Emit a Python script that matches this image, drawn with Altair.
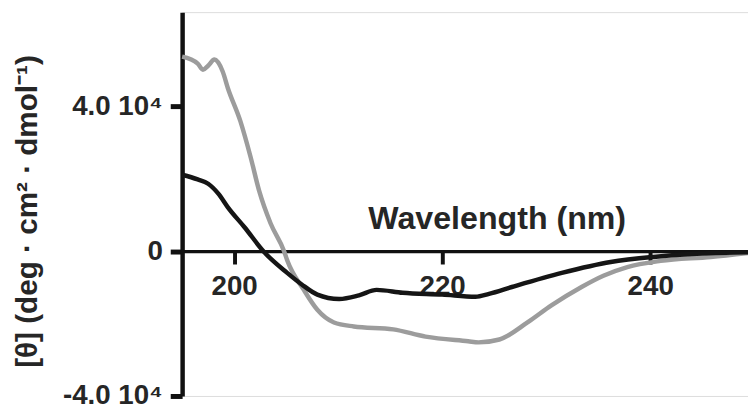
import altair as alt
import pandas as pd

# Gray curve (wavelength nm, ellipticity)
gray_wl = [195.0, 196.5, 197.0, 197.5, 198.1, 198.9, 199.4, 200.6, 201.6, 202.4, 203.5, 204.8,
           205.1, 206.7, 208.0, 209.6, 211.5, 215.3, 218.4, 222.5, 223.5, 225.5, 228.2, 230.5,
           233.4, 235.5, 237.8, 241.0, 245.8, 249.4]
gray_val = [53700, 51800, 50100, 51200, 52900, 49600, 45000, 35900, 25800, 16700, 7700, 0,
            -2500, -10700, -16200, -19700, -20800, -21600, -23600, -24900, -25200, -24400, -19700, -15000,
            -9900, -6800, -4400, -2700, -1600, -500]

# Black curve
black_wl = [195.0, 196.5, 197.5, 198.5, 199.4, 201.0, 202.9, 205.1, 206.5, 208.0, 210.1, 212.0,
            213.7, 216.2, 220.0, 223.2, 224.5, 226.7, 231.5, 236.2, 240.3, 244.0, 249.4]
black_val = [21100, 19800, 18600, 15800, 12100, 6600, -300, -6000, -9200, -12000, -13200, -12200,
             -10700, -11500, -12000, -12600, -11800, -9900, -6000, -3000, -1600, -800, -300]

x_ticks = [200, 220, 240]
y_ticks = [-40000, 0, 40000]
y_tick_labels = ["-4.0 10\u2074", "0", "4.0 10\u2074"]

x_domain = [195, 249.4]
y_domain = [-40000, 66000]

df = pd.concat([
    pd.DataFrame({"wl": gray_wl, "val": gray_val, "series": "gray", "order": range(len(gray_wl))}),
    pd.DataFrame({"wl": black_wl, "val": black_val, "series": "black", "order": range(len(black_wl))}),
])

W, H = 572, 388
zero_offset = -H * (0 - y_domain[0]) / (y_domain[1] - y_domain[0])

label_expr = " : ".join(
    f"datum.value == {v} ? '{t}'" for v, t in zip(y_ticks, y_tick_labels)
) + " : ''"

font = "Liberation Sans"
txt = "#262626"

x_enc = alt.X("wl:Q", scale=alt.Scale(domain=x_domain, nice=False, zero=False),
              axis=alt.Axis(values=x_ticks, title="Wavelength (nm)", orient="bottom",
                            offset=zero_offset, domainWidth=3.5, domainColor="#111",
                            tickWidth=4, tickSize=13, tickColor="#111", grid=False,
                            labelFont=font, labelFontSize=28, labelFontWeight="bold",
                            labelColor=txt, labelPadding=9,
                            titleFont=font, titleFontSize=32.5, titleFontWeight="bold",
                            titleColor=txt, titleX=318, titleY=-23,
                            titleBaseline="alphabetic", titleAnchor=None))
y_enc = alt.Y("val:Q", scale=alt.Scale(domain=y_domain, nice=False, zero=False),
              axis=alt.Axis(values=y_ticks, labelExpr=label_expr,
                            title="[\u03b8] (deg \u00b7 cm\u00b2 \u00b7 dmol\u207b\u00b9)",
                            domainWidth=4.5, domainColor="#111", tickWidth=5, tickSize=12,
                            tickColor="#111", grid=False,
                            labelFont=font, labelFontSize=28, labelFontWeight="bold",
                            labelColor=txt, labelPadding=8,
                            titleFont=font, titleFontSize=30, titleFontWeight="bold",
                            titleColor=txt, titleAngle=270, titleX=-156, titleY=201,
                            titleAlign="center", titleBaseline="middle"))

chart = alt.Chart(df).mark_line(strokeWidth=4.5, clip=False, interpolate="monotone").encode(
    x=x_enc,
    y=y_enc,
    detail="series:N",
    order="order:Q",
    color=alt.Color("series:N", scale=alt.Scale(domain=["gray", "black"], range=["#9c9c9c", "#151515"]),
                    legend=None),
).properties(
    width=W, height=H,
    autosize=alt.AutoSizeParams(type="none"),
    padding={"left": 176, "top": 2, "right": 0, "bottom": 14},
).configure_view(stroke=None).configure(background="white")

chart.save("out.html", embed_options={"renderer": "svg", "actions": False})
